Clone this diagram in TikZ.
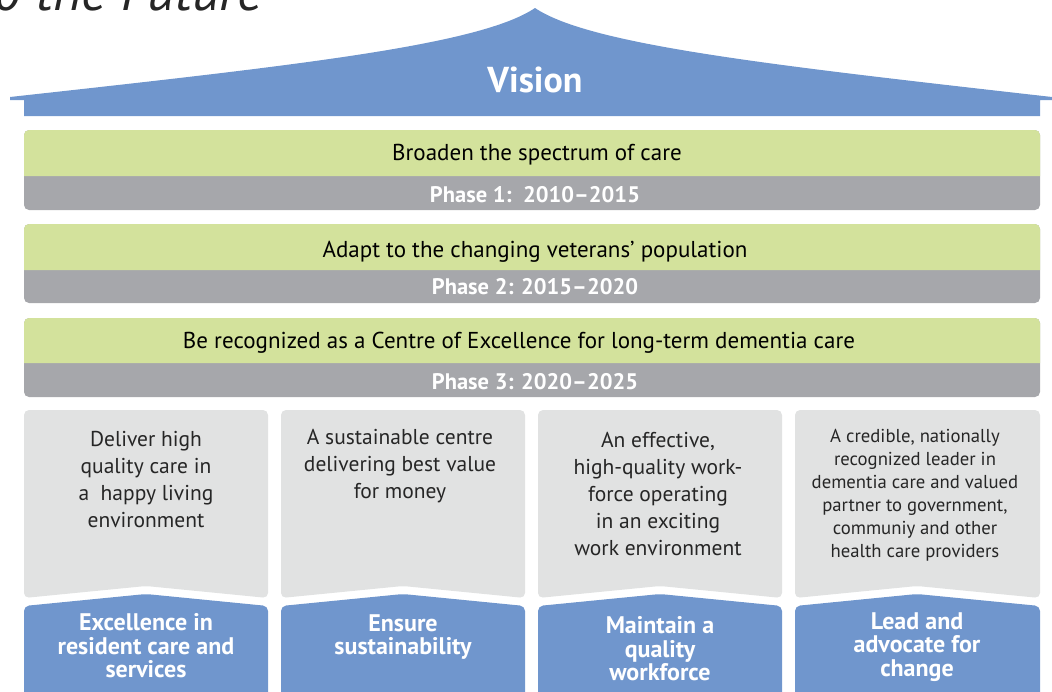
\documentclass[tikz,border=0pt]{standalone}
\usepackage{fontspec}
\setmainfont{PT Sans}
\usepackage{tikz}

\definecolor{roofblue}{HTML}{7096CD}
\definecolor{goalgreen}{HTML}{D3E29C}
\definecolor{phasegrey}{HTML}{A6A7AB}
\definecolor{boxgrey}{HTML}{E1E2E2}

\begin{document}
\begin{tikzpicture}[x=1pt,y=-1pt,
    goal/.style={font=\fontsize{23}{26}\selectfont, text=black},
    phase/.style={font=\bfseries\fontsize{22.5}{25}\selectfont, text=white},
    desc/.style={font=\fontsize{21.5}{27}\selectfont, align=center, text=black!85},
    aim/.style={font=\bfseries\fontsize{24}{23.5}\selectfont, align=center, text=white}]
                \useasboundingbox (0,0) rectangle (1052,691);
                \clip (0,0) rectangle (1052,691);

                %Roof
                \fill[roofblue] (10,100) -- (10,97) .. controls (300,65) and (480,45) .. (535,8)
                    .. controls (590,45) and (770,65) .. (1052,97) -- (1052,100) -- (1040,100)
                    -- (1040,116) -- (24,116) -- (24,100) -- cycle;

                %Phase bars
                \fill[phasegrey, rounded corners=5] (24,130) rectangle (1040,210);
                \fill[goalgreen] (24,176) [rounded corners=5] -- (24,130) -- (1040,130) [sharp corners] -- (1040,176) -- cycle;
                \fill[phasegrey, rounded corners=5] (24,224) rectangle (1040,303);
                \fill[goalgreen] (24,270) [rounded corners=5] -- (24,224) -- (1040,224) [sharp corners] -- (1040,270) -- cycle;
                \fill[phasegrey, rounded corners=5] (24,318) rectangle (1040,397);
                \fill[goalgreen] (24,363) [rounded corners=5] -- (24,318) -- (1040,318) [sharp corners] -- (1040,363) -- cycle;

                %Pillars
                \fill[boxgrey, rounded corners=5] (24,598) -- (24,410) -- (268,410) -- (268,598) -- (146,586) -- cycle;
                \fill[boxgrey, rounded corners=5] (281,598) -- (281,410) -- (525,410) -- (525,598) -- (403,586) -- cycle;
                \fill[boxgrey, rounded corners=5] (538,598) -- (538,410) -- (782,410) -- (782,598) -- (660,586) -- cycle;
                \fill[boxgrey, rounded corners=5] (795,598) -- (795,410) -- (1040,410) -- (1040,598) -- (917,586) -- cycle;
                \fill[roofblue, rounded corners=5] (24,710) -- (24,606) -- (146,594) -- (268,606) -- (268,710) -- cycle;
                \fill[roofblue, rounded corners=5] (281,710) -- (281,606) -- (403,594) -- (525,606) -- (525,710) -- cycle;
                \fill[roofblue, rounded corners=5] (538,710) -- (538,606) -- (660,594) -- (782,606) -- (782,710) -- cycle;
                \fill[roofblue, rounded corners=5] (795,710) -- (795,606) -- (917,594) -- (1040,606) -- (1040,710) -- cycle;

                %Nodes
                \node[anchor=base east, font=\itshape\fontsize{54}{58}\selectfont, text=black!85] at (266,10) (title) {o the Future};
                \node[font=\bfseries\fontsize{36}{40}\selectfont, text=white] at (535,80) (vision) {Vision};
                \node[goal] at (537,155) (goal1) {Broaden the spectrum of care};
                \node[phase] at (535,195) (phase1) {Phase 1:\ \ 2010–2015};
                \node[goal] at (535,252) (goal2) {Adapt to the changing veterans’ population};
                \node[phase] at (535,287) (phase2) {Phase 2: 2015–2020};
                \node[goal] at (519,343) (goal3) {Be recognized as a Centre of Excellence for long-term dementia care};
                \node[phase] at (535,382) (phase3) {Phase 3: 2020–2025};

                \node[desc] at (146,480) (desc1) {Deliver high\\quality care in\\a\ \ happy living\\environment};
                \node[desc] at (400,466) (desc2) {A sustainable centre\\delivering best value\\for money};
                \node[desc] at (658,494) (desc3) {An effective,\\high-quality work-\\force operating\\in an exciting\\work environment};
                \node[desc, font=\fontsize{18.7}{23}\selectfont] at (915,495) (desc4) {A credible, nationally\\recognized leader in\\dementia care and valued\\partner to government,\\communiy and other\\health care providers};

                \node[aim] at (146,646) (aim1) {Excellence in\\resident care and\\services};
                \node[aim] at (403,637) (aim2) {Ensure\\sustainability};
                \node[aim] at (660,649) (aim3) {Maintain a\\quality\\workforce};
                \node[aim] at (917,647) (aim4) {Lead and\\advocate for\\change};
            \end{tikzpicture}
\end{document}
